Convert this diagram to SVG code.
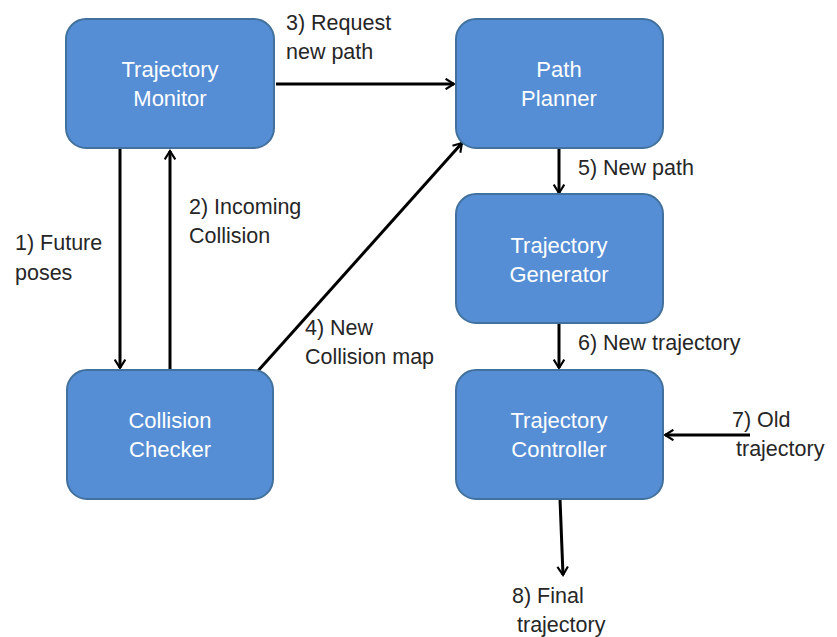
<svg xmlns="http://www.w3.org/2000/svg" width="837" height="637" viewBox="0 0 837 637">
<defs>
<style>
.box{fill:#558ed5;stroke:#41719c;stroke-width:2}
.bt{font-family:"Liberation Sans",Arial,sans-serif;font-size:22px;fill:#ffffff;text-anchor:middle}
.lb{font-family:"Liberation Sans",Arial,sans-serif;font-size:21.5px;fill:#262626}
.c{stroke:#000;stroke-width:3;fill:none;marker-end:url(#ah)}
</style>
<marker id="ah" viewBox="0 0 12 12" refX="10" refY="6" markerWidth="4.2" markerHeight="4.2" markerUnits="strokeWidth" orient="auto">
<path d="M2,1 L10,6 L2,11" fill="none" stroke="#000" stroke-width="2"/>
</marker>
</defs>
<rect width="837" height="637" fill="#ffffff"/>
<g id="connectors">
<line class="c" x1="276" y1="84" x2="454" y2="84"/>
<line class="c" x1="120" y1="148" x2="120" y2="368"/>
<line class="c" x1="170" y1="370" x2="170" y2="151"/>
<line class="c" x1="257" y1="372" x2="462" y2="143"/>
<line class="c" x1="559" y1="148" x2="559" y2="193"/>
<line class="c" x1="559" y1="323" x2="559" y2="368"/>
<line class="c" x1="750" y1="435" x2="665" y2="435"/>
<line class="c" x1="560" y1="499" x2="563" y2="575"/>
</g>
<g id="labels">
<text class="lb" x="286" y="30">3) Request</text>
<text class="lb" x="286" y="59">new path</text>
<text class="lb" x="578" y="175">5) New path</text>
<text class="lb" x="578" y="350">6) New trajectory</text>
<text class="lb" x="189" y="214">2) Incoming</text>
<text class="lb" x="189" y="243">Collision</text>
<text class="lb" x="15" y="250">1) Future</text>
<text class="lb" x="15" y="280">poses</text>
<text class="lb" x="305" y="335">4) New</text>
<text class="lb" x="305" y="364">Collision map</text>
<text class="lb" x="732" y="427">7) Old</text>
<text class="lb" x="736" y="456">trajectory</text>
<text class="lb" x="512" y="603">8) Final</text>
<text class="lb" x="517" y="632">trajectory</text>
</g>
<g id="trajectory-monitor">
<rect class="box" x="66" y="19" width="208" height="129" rx="20"/>
<text class="bt" x="170" y="77">Trajectory</text>
<text class="bt" x="170" y="106">Monitor</text>
</g>
<g id="path-planner">
<rect class="box" x="456" y="19" width="207" height="129" rx="20"/>
<text class="bt" x="559" y="77">Path</text>
<text class="bt" x="559" y="106">Planner</text>
</g>
<g id="trajectory-generator">
<rect class="box" x="456" y="194" width="207" height="129" rx="20"/>
<text class="bt" x="559" y="253">Trajectory</text>
<text class="bt" x="559" y="282">Generator</text>
</g>
<g id="collision-checker">
<rect class="box" x="67" y="370" width="206" height="129" rx="20"/>
<text class="bt" x="170" y="428">Collision</text>
<text class="bt" x="170" y="457">Checker</text>
</g>
<g id="trajectory-controller">
<rect class="box" x="456" y="370" width="207" height="129" rx="20"/>
<text class="bt" x="559" y="428">Trajectory</text>
<text class="bt" x="559" y="457">Controller</text>
</g>
</svg>
